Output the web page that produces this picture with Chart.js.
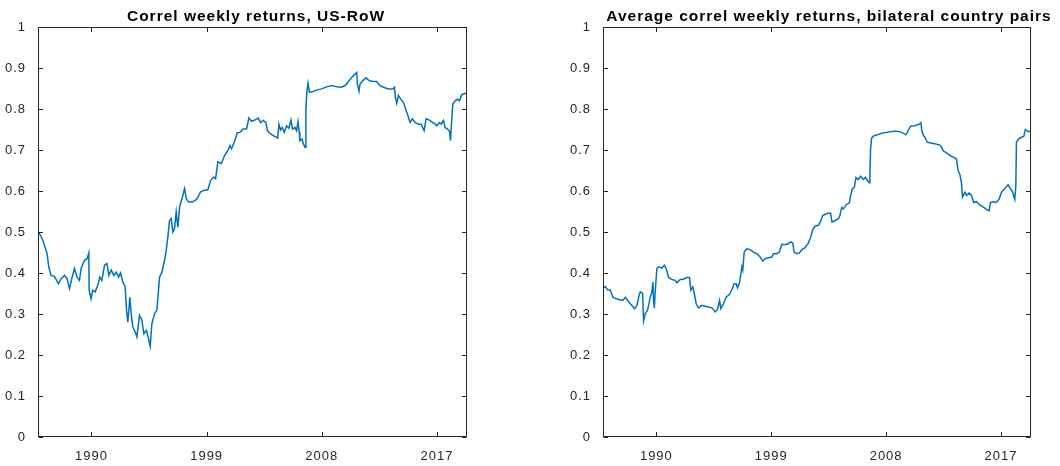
<!DOCTYPE html>
<html>
<head>
<meta charset="utf-8">
<script src="https://cdn.jsdelivr.net/npm/chart.js@4.4.1/dist/chart.umd.min.js"></script>
<style>
    html, body { margin: 0; padding: 0; background: #fff; overflow: hidden; width: 1060px; height: 466px; }
    .panel { position: absolute; top: 0; height: 466px; }
</style>
</head>
<body>
<div class="panel" style="left:0px;width:512px"><canvas id="usRowChart"></canvas></div>
<div class="panel" style="left:565px;width:528px"><canvas id="pairsChart"></canvas></div>
<script>
// tick labels
var yearTicks = [1990, 1999, 2008, 2017];
var xMin = 1985.82, xMax = 2019.35;

// Correl weekly returns, US-RoW
var usYears = [1985.85, 1986.01, 1986.19, 1986.37, 1986.53, 1986.66, 1986.84, 1987.10, 1987.42, 1987.63,
    1987.89, 1988.10, 1988.28, 1988.46, 1988.67, 1988.88, 1989.06, 1989.19, 1989.45, 1989.66,
    1989.79, 1989.82, 1989.97, 1990.10, 1990.29, 1990.49, 1990.65, 1990.81, 1991.02, 1991.20,
    1991.36, 1991.54, 1991.75, 1991.93, 1992.11, 1992.27, 1992.45, 1992.63, 1992.74, 1992.84,
    1993.00, 1993.10, 1993.23, 1993.42, 1993.55, 1993.75, 1993.94, 1994.09, 1994.30, 1994.46,
    1994.59, 1994.72, 1994.93, 1995.11, 1995.32, 1995.50, 1995.71, 1995.84, 1995.97, 1996.10,
    1996.23, 1996.36, 1996.49, 1996.62, 1996.75, 1996.89, 1997.07, 1997.28, 1997.41, 1997.59,
    1997.85, 1998.19, 1998.32, 1998.53, 1998.84, 1999.10, 1999.31, 1999.57, 1999.70, 1999.88,
    2000.15, 2000.41, 2000.67, 2000.82, 2000.95, 2001.21, 2001.40, 2001.60, 2001.86, 2002.12,
    2002.30, 2002.51, 2002.77, 2003.03, 2003.22, 2003.43, 2003.63, 2003.76, 2004.00, 2004.21,
    2004.47, 2004.55, 2004.65, 2004.78, 2004.91, 2005.07, 2005.25, 2005.43, 2005.59, 2005.72,
    2005.90, 2006.03, 2006.14, 2006.24, 2006.29, 2006.45, 2006.56, 2006.69, 2006.76, 2006.82,
    2006.92, 2007.03, 2007.29, 2007.60, 2007.99, 2008.38, 2008.77, 2009.16, 2009.56, 2009.89,
    2010.08, 2010.34, 2010.60, 2010.73, 2010.78, 2010.91, 2010.99, 2011.20, 2011.46, 2011.72,
    2012.03, 2012.29, 2012.55, 2012.82, 2013.21, 2013.55, 2013.68, 2013.75, 2013.86, 2013.99,
    2014.17, 2014.38, 2014.51, 2014.69, 2014.90, 2015.08, 2015.29, 2015.55, 2015.76, 2016.00,
    2016.15, 2016.41, 2016.68, 2016.86, 2016.99, 2017.17, 2017.33, 2017.51, 2017.64, 2017.82,
    2017.98, 2018.06, 2018.16, 2018.24, 2018.42, 2018.61, 2018.76, 2018.94, 2019.13, 2019.34];
var usCorr = [0.500, 0.492, 0.480, 0.463, 0.447, 0.415, 0.394, 0.392, 0.374, 0.386,
    0.394, 0.386, 0.362, 0.386, 0.411, 0.390, 0.382, 0.411, 0.431, 0.435,
    0.449, 0.358, 0.337, 0.358, 0.354, 0.370, 0.390, 0.382, 0.419, 0.423,
    0.394, 0.407, 0.394, 0.402, 0.390, 0.400, 0.378, 0.366, 0.309, 0.280,
    0.341, 0.301, 0.268, 0.256, 0.244, 0.297, 0.285, 0.252, 0.260, 0.240,
    0.221, 0.276, 0.301, 0.309, 0.390, 0.402, 0.431, 0.455, 0.488, 0.528,
    0.533, 0.500, 0.508, 0.549, 0.512, 0.561, 0.581, 0.606, 0.581, 0.573,
    0.573, 0.579, 0.585, 0.598, 0.602, 0.603, 0.626, 0.634, 0.630, 0.671,
    0.667, 0.687, 0.699, 0.711, 0.703, 0.724, 0.742, 0.743, 0.751, 0.751,
    0.778, 0.770, 0.773, 0.778, 0.767, 0.772, 0.767, 0.746, 0.739, 0.735,
    0.731, 0.729, 0.763, 0.749, 0.755, 0.743, 0.759, 0.753, 0.773, 0.751,
    0.755, 0.747, 0.769, 0.743, 0.723, 0.727, 0.715, 0.707, 0.796, 0.837,
    0.863, 0.841, 0.842, 0.846, 0.849, 0.854, 0.857, 0.854, 0.853, 0.859,
    0.867, 0.877, 0.885, 0.889, 0.861, 0.843, 0.861, 0.869, 0.876, 0.869,
    0.867, 0.867, 0.857, 0.853, 0.849, 0.849, 0.853, 0.828, 0.814, 0.833,
    0.824, 0.816, 0.804, 0.788, 0.767, 0.776, 0.767, 0.763, 0.763, 0.747,
    0.776, 0.773, 0.767, 0.763, 0.759, 0.767, 0.763, 0.772, 0.755, 0.751,
    0.746, 0.723, 0.776, 0.812, 0.820, 0.824, 0.820, 0.835, 0.837, 0.839];

// Average correl weekly returns, bilateral country pairs
var pairYears = [1985.82, 1985.84, 1986.00, 1986.18, 1986.39, 1986.60, 1986.86, 1987.12, 1987.38, 1987.57,
    1987.75, 1987.96, 1988.14, 1988.30, 1988.48, 1988.61, 1988.74, 1988.92, 1989.00, 1989.13,
    1989.31, 1989.52, 1989.65, 1989.73, 1989.78, 1989.84, 1989.91, 1990.04, 1990.17, 1990.43,
    1990.62, 1990.77, 1990.96, 1991.22, 1991.48, 1991.61, 1991.87, 1992.13, 1992.39, 1992.60,
    1992.70, 1992.86, 1992.97, 1993.12, 1993.30, 1993.56, 1993.83, 1994.09, 1994.35, 1994.61,
    1994.79, 1994.95, 1995.05, 1995.26, 1995.47, 1995.73, 1995.91, 1996.10, 1996.25, 1996.36,
    1996.51, 1996.70, 1996.77, 1996.88, 1997.09, 1997.35, 1997.61, 1997.87, 1998.08, 1998.34,
    1998.52, 1998.78, 1999.04, 1999.17, 1999.43, 1999.64, 1999.83, 2000.09, 2000.35, 2000.53,
    2000.69, 2000.79, 2001.00, 2001.21, 2001.39, 2001.65, 2001.91, 2002.09, 2002.25, 2002.43,
    2002.69, 2002.88, 2003.03, 2003.29, 2003.47, 2003.65, 2003.76, 2004.00, 2004.25, 2004.38,
    2004.52, 2004.65, 2004.85, 2005.12, 2005.22, 2005.35, 2005.51, 2005.64, 2005.82, 2006.00,
    2006.21, 2006.39, 2006.55, 2006.68, 2006.73, 2006.78, 2006.86, 2007.05, 2007.31, 2007.65,
    2008.04, 2008.43, 2008.82, 2009.21, 2009.55, 2009.73, 2009.91, 2010.25, 2010.59, 2010.72,
    2010.80, 2010.91, 2011.11, 2011.22, 2011.48, 2011.82, 2012.21, 2012.34, 2012.47, 2012.73,
    2013.04, 2013.30, 2013.51, 2013.64, 2013.77, 2013.90, 2013.98, 2014.17, 2014.30, 2014.50,
    2014.69, 2014.87, 2015.08, 2015.34, 2015.65, 2015.91, 2016.07, 2016.17, 2016.38, 2016.64,
    2016.85, 2017.04, 2017.30, 2017.56, 2017.74, 2017.90, 2018.08, 2018.16, 2018.21, 2018.39,
    2018.60, 2018.78, 2018.91, 2019.12, 2019.30];
var pairCorr = [0.268, 0.364, 0.367, 0.359, 0.358, 0.341, 0.337, 0.335, 0.333, 0.341,
    0.333, 0.325, 0.319, 0.313, 0.321, 0.341, 0.354, 0.351, 0.283, 0.301,
    0.309, 0.341, 0.354, 0.378, 0.333, 0.315, 0.354, 0.411, 0.415, 0.412,
    0.419, 0.411, 0.389, 0.384, 0.382, 0.376, 0.384, 0.385, 0.389, 0.389,
    0.358, 0.366, 0.350, 0.325, 0.315, 0.321, 0.319, 0.317, 0.315, 0.305,
    0.311, 0.333, 0.313, 0.325, 0.341, 0.348, 0.359, 0.374, 0.374, 0.364,
    0.376, 0.415, 0.407, 0.451, 0.459, 0.457, 0.451, 0.447, 0.441, 0.429,
    0.435, 0.437, 0.439, 0.447, 0.447, 0.451, 0.470, 0.469, 0.472, 0.476,
    0.473, 0.451, 0.447, 0.449, 0.457, 0.462, 0.473, 0.488, 0.506, 0.514,
    0.516, 0.527, 0.540, 0.544, 0.546, 0.546, 0.524, 0.528, 0.532, 0.540,
    0.560, 0.556, 0.566, 0.571, 0.589, 0.605, 0.609, 0.633, 0.628, 0.636,
    0.628, 0.633, 0.625, 0.620, 0.633, 0.702, 0.729, 0.735, 0.737, 0.741,
    0.743, 0.745, 0.746, 0.743, 0.737, 0.747, 0.758, 0.759, 0.763, 0.767,
    0.747, 0.737, 0.727, 0.719, 0.717, 0.715, 0.712, 0.707, 0.698, 0.693,
    0.686, 0.682, 0.678, 0.650, 0.641, 0.621, 0.585, 0.597, 0.589, 0.595,
    0.589, 0.572, 0.574, 0.566, 0.560, 0.554, 0.552, 0.572, 0.574, 0.572,
    0.580, 0.597, 0.606, 0.615, 0.606, 0.598, 0.580, 0.613, 0.719, 0.727,
    0.731, 0.733, 0.750, 0.745, 0.745];

document.addEventListener("DOMContentLoaded", function () {
    var fontFamily = '"Liberation Sans", Arial, Helvetica, sans-serif';
    var axisColor = '#262626';

    // matlab style box with inward ticks, plus the wider letter spacing of the original text
    var axisBox = {
        id: 'axisBox',
        beforeDraw: function (chart) {
            chart.ctx.letterSpacing = '1px';
        },
        afterDatasetsDraw: function (chart) {
            var ctx = chart.ctx, a = chart.chartArea;
            var l = Math.round(a.left) + 0.5, r = Math.round(a.right) - 0.5;
            var t = Math.round(a.top) + 0.5, b = Math.round(a.bottom) - 0.5;
            ctx.save();
            ctx.strokeStyle = axisColor;
            ctx.lineWidth = 1;
            ctx.strokeRect(l, t, r - l, b - t);
            ctx.beginPath();
            chart.scales.x.ticks.forEach(function (tk) {
                var px = Math.round(chart.scales.x.getPixelForValue(tk.value)) + 0.5;
                ctx.moveTo(px, b); ctx.lineTo(px, b - 4.5);
                ctx.moveTo(px, t); ctx.lineTo(px, t + 4.5);
            });
            chart.scales.y.ticks.forEach(function (tk) {
                var py = Math.round(chart.scales.y.getPixelForValue(tk.value)) + 0.5;
                ctx.moveTo(l, py); ctx.lineTo(l + 4.5, py);
                ctx.moveTo(r, py); ctx.lineTo(r - 4.5, py);
            });
            ctx.stroke();
            ctx.restore();
        },
        afterDraw: function (chart) {
            chart.ctx.letterSpacing = '0px';
        }
    };

    function makeChart(canvasId, title, years, values, rightWidth) {
        var points = years.map(function (yr, i) { return { x: yr, y: values[i] }; });
        var ctx = document.getElementById(canvasId).getContext("2d");
        return new Chart(ctx, {
            type: 'line',
            data: {
                datasets: [{
                    data: points,
                    borderColor: '#0072BD',
                    borderWidth: 1.5,
                    pointRadius: 0,
                    tension: 0,
                    fill: false
                }]
            },
            options: {
                responsive: true,
                maintainAspectRatio: false,
                animation: false,
                layout: { padding: 0 },
                plugins: {
                    legend: { display: false },
                    tooltip: { enabled: false },
                    title: {
                        display: true,
                        text: title,
                        color: '#000',
                        font: { family: fontFamily, size: 15.5, weight: 'bold', lineHeight: 1.2 },
                        padding: { top: 7, bottom: 1.4 }
                    }
                },
                scales: {
                    x: {
                        type: 'linear',
                        min: xMin,
                        max: xMax,
                        grid: { display: false, drawTicks: false },
                        border: { display: false },
                        afterBuildTicks: function (axis) {
                            axis.ticks = yearTicks.map(function (v) { return { value: v }; });
                        },
                        afterFit: function (axis) { axis.height = 29; },
                        ticks: {
                            padding: 12,
                            maxRotation: 0,
                            autoSkip: false,
                            color: axisColor,
                            font: { family: fontFamily, size: 13 },
                            callback: function (v) { return String(v); }
                        }
                    },
                    y: {
                        min: 0,
                        max: 1,
                        grid: { display: false, drawTicks: false },
                        border: { display: false },
                        afterFit: function (axis) { axis.width = 38; },
                        ticks: {
                            stepSize: 0.1,
                            padding: 12,
                            color: axisColor,
                            font: { family: fontFamily, size: 13 },
                            callback: function (v) { return String(Math.round(v * 10) / 10); }
                        }
                    },
                    yRight: {
                        position: 'right',
                        grid: { display: false, drawTicks: false },
                        border: { display: false },
                        ticks: { display: false },
                        afterFit: function (axis) { axis.width = rightWidth; }
                    }
                }
            },
            plugins: [axisBox]
        });
    }

    makeChart("usRowChart", "Correl weekly returns, US-RoW", usYears, usCorr, 45);
    makeChart("pairsChart", "Average correl weekly returns, bilateral country pairs", pairYears, pairCorr, 62);
});
</script>
</body>
</html>
